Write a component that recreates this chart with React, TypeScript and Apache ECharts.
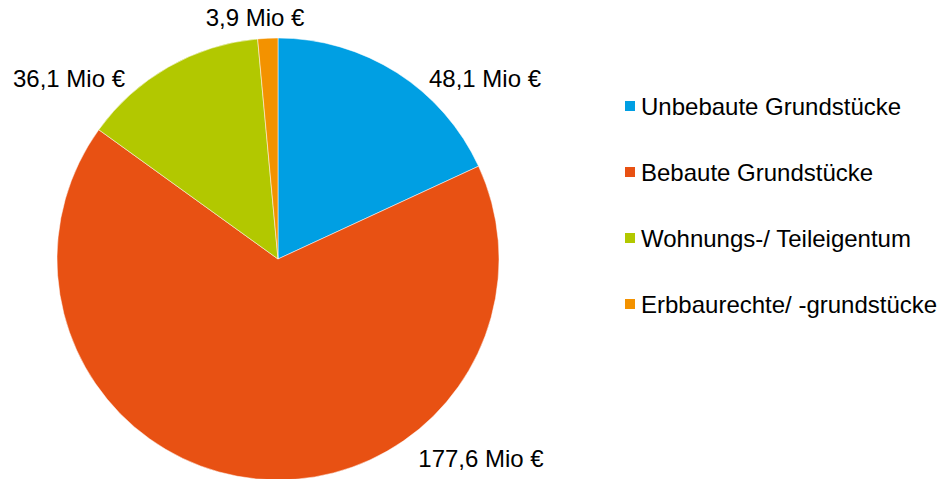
import React, { useEffect, useRef } from "react";
import * as echarts from "echarts";

const categories = [
  "Unbebaute Grundstücke",
  "Bebaute Grundstücke",
  "Wohnungs-/ Teileigentum",
  "Erbbaurechte/ -grundstücke",
];
const values = [48.1, 177.6, 36.1, 3.9];
const colors = ["#009FE3", "#E85113", "#B2C800", "#F39200"];
const labelPos = [
  [485, 78],
  [481, 458],
  [69, 78],
  [255, 17],
];

const FONT = "'Liberation Sans', Arial, sans-serif";

export default function App() {
  const ref = useRef<HTMLDivElement>(null);
  useEffect(() => {
    if (!ref.current) return;
    const chart = echarts.init(ref.current, null, { renderer: "svg" });
    chart.setOption({
      animation: false,
      textStyle: { fontFamily: FONT },
      legend: {
        orient: "vertical",
        left: 618,
        top: 89,
        itemWidth: 12,
        itemHeight: 12,
        itemGap: 42,
        icon: "rect",
        textStyle: { fontSize: 24, color: "#000", fontFamily: FONT },
        data: categories,
      },
      series: [
        {
          type: "pie",
          center: [278, 259],
          radius: 221,
          startAngle: 90,
          clockwise: true,
          avoidLabelOverlap: false,
          itemStyle: { borderColor: "#fff", borderWidth: 0.5 },
          label: {
            show: true,
            position: "outside",
            fontSize: 24,
            color: "#000",
            fontFamily: FONT,
            formatter: (p: any) => String(p.value).replace(".", ",") + " Mio €",
          },
          labelLine: { show: false },
          labelLayout: (p: any) => ({
            x: labelPos[p.dataIndex][0],
            y: labelPos[p.dataIndex][1],
            align: "center",
            verticalAlign: "middle",
          }),
          emphasis: { disabled: true },
          data: categories.map((c, i) => ({
            name: c,
            value: values[i],
            itemStyle: { color: colors[i] },
          })),
        },
      ],
    });
    return () => chart.dispose();
  }, []);
  return (
    <div
      ref={ref}
      style={{ position: "absolute", left: 0, top: 0, width: 947, height: 479 }}
    />
  );
}
